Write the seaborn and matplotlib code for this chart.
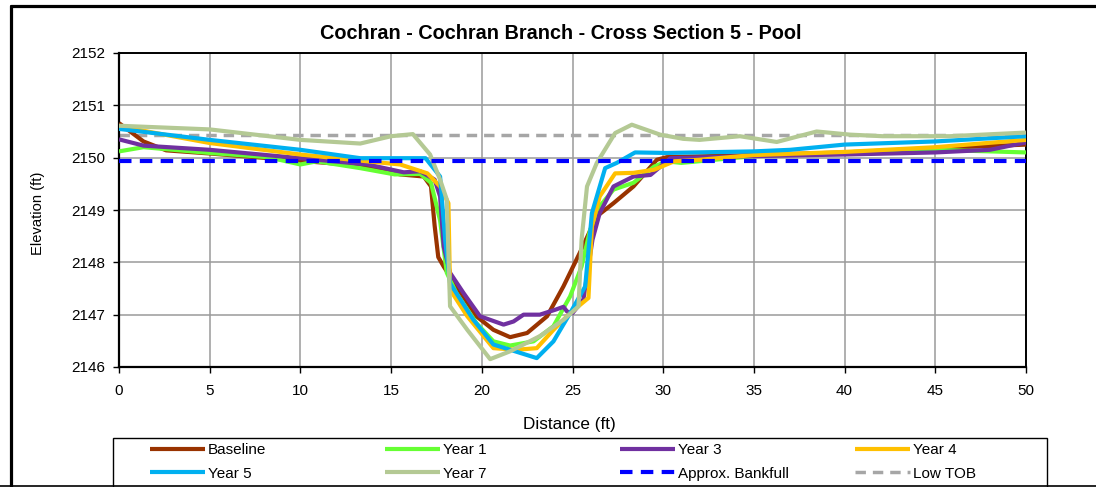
import matplotlib
matplotlib.use("Agg")
import matplotlib.pyplot as plt
from matplotlib.lines import Line2D
from matplotlib.patches import Rectangle
import seaborn as sns
import pandas as pd

# ---------------- data ----------------
baseline_x = [0, 1.35, 2.6, 5, 10, 11.8, 13.7, 15.5, 16.8, 17.2, 17.4, 17.6, 17.9, 18.6, 19.7, 20.64,
              21.56, 22.5, 23.6, 24.5, 25.4, 26.34, 27.26, 28.36, 29.65, 30.2, 35, 40, 45, 50]
baseline_y = [2150.66, 2150.31, 2150.14, 2150.08, 2149.94, 2149.89, 2149.83, 2149.68, 2149.64, 2149.45,
              2148.7, 2148.1, 2147.92, 2147.54, 2146.97, 2146.71, 2146.57, 2146.65, 2146.97, 2147.54,
              2148.18, 2148.88, 2149.13, 2149.45, 2149.96, 2150.01, 2150.05, 2150.1, 2150.18, 2150.25]

year1_x = [0, 1.35, 5, 8.2, 10, 10.9, 13.3, 15.2, 16.6, 17.2, 17.7, 18.07, 18.6, 19.7, 20.64, 21.56,
           22.85, 23.95, 24.87, 25.5, 25.97, 26.5, 27.26, 28.36, 29.5, 30.2, 31, 35, 40, 45, 50]
year1_y = [2150.12, 2150.2, 2150.09, 2150.01, 2149.87, 2149.93, 2149.8, 2149.68, 2149.69, 2149.52,
           2148.8, 2147.8, 2147.41, 2146.84, 2146.49, 2146.41, 2146.49, 2146.78, 2147.35, 2147.92,
           2148.62, 2149.07, 2149.39, 2149.52, 2149.83, 2149.93, 2149.9, 2150.03, 2150.09, 2150.15, 2150.1]

year3_x = [0, 1.35, 5, 10, 13.7, 15.7, 16.6, 17.4, 17.7, 17.9, 18.25, 19.0, 19.9, 21.2, 21.75, 22.3,
           23.2, 24.1, 24.5, 24.7, 25.0, 25.6, 26.1, 26.5, 27.26, 28.36, 29.3, 30.4, 35, 40, 45, 48, 50]
year3_y = [2150.35, 2150.23, 2150.15, 2149.99, 2149.87, 2149.72, 2149.74, 2149.58, 2149.26, 2148.3,
           2147.8, 2147.41, 2146.97, 2146.81, 2146.87, 2147.0, 2147.0, 2147.1, 2147.15, 2147.06,
           2147.03, 2147.29, 2148.43, 2148.94, 2149.45, 2149.64, 2149.67, 2149.99, 2150.03, 2150.06,
           2150.1, 2150.15, 2150.29]

year4_x = [0, 5, 10, 13.7, 15.5, 17.0, 17.7, 18.16, 18.25, 19.2, 20.64, 21.93, 23.03, 23.95, 24.87,
           25.88, 26.07, 26.5, 27.35, 28.36, 29.5, 30.6, 32, 35, 40, 45, 50]
year4_y = [2150.6, 2150.28, 2150.06, 2149.93, 2149.87, 2149.7, 2149.45, 2149.13, 2147.48, 2146.97,
           2146.36, 2146.33, 2146.36, 2146.71, 2147.03, 2147.32, 2148.69, 2149.26, 2149.7, 2149.71,
           2149.77, 2149.93, 2149.96, 2150.05, 2150.11, 2150.2, 2150.34]

year5_x = [0, 5, 10, 13.3, 15.5, 16.9, 17.7, 17.98, 18.25, 19.54, 20.64, 21.56, 23.03, 23.95, 24.87,
           25.7, 26.07, 26.8, 27.44, 28.45, 30.2, 35, 37, 40, 45, 50]
year5_y = [2150.55, 2150.34, 2150.15, 2149.99, 2149.99, 2149.99, 2149.64, 2148.43, 2147.6, 2146.9,
           2146.43, 2146.33, 2146.17, 2146.49, 2147.03, 2147.54, 2148.94, 2149.8, 2149.9, 2150.1,
           2150.09, 2150.12, 2150.15, 2150.25, 2150.31, 2150.41]

year7_x = [0, 5, 10, 13.3, 15, 16.2, 17.15, 17.7, 18.07, 18.25, 19.2, 20.46, 21.56, 23.2, 24.5, 25.33,
           25.5, 25.8, 26.34, 27.35, 28.27, 29.83, 31.1, 32, 34.23, 36.26, 38.46, 40.3, 42.1, 45.8, 50]
year7_y = [2150.61, 2150.54, 2150.34, 2150.27, 2150.41, 2150.45, 2150.06, 2149.58, 2149.2, 2147.16,
           2146.71, 2146.15, 2146.3, 2146.59, 2146.9, 2147.16, 2148.43, 2149.45, 2149.9, 2150.47,
           2150.63, 2150.44, 2150.36, 2150.34, 2150.41, 2150.3, 2150.5, 2150.44, 2150.41, 2150.41, 2150.48]

bankfull_x = [0, 50]
bankfull_y = [2149.93, 2149.93]
lowtob_x = [0, 50]
lowtob_y = [2150.43, 2150.43]

series_names = ["Baseline", "Year 1", "Year 3", "Year 4", "Year 5", "Year 7",
                "Approx. Bankfull", "Low TOB"]
x_ticks = [0, 5, 10, 15, 20, 25, 30, 35, 40, 45, 50]
y_ticks = [2146, 2147, 2148, 2149, 2150, 2151, 2152]

# ---------------- style ----------------
sns.set_style("white")
plt.rcParams['font.family'] = ['Liberation Sans', 'DejaVu Sans']
plt.rcParams['text.color'] = 'black'
plt.rcParams['axes.labelcolor'] = 'black'
plt.rcParams['xtick.color'] = 'black'
plt.rcParams['ytick.color'] = 'black'

fig = plt.figure(figsize=(10.96, 4.87), dpi=100)
W, H = 1096, 487
ax = fig.add_axes([119 / W, 1 - 367 / H, (1026 - 119) / W, (367 - 53) / H])

colors = ["#993300", "#66FF33", "#7030A0", "#FFC000", "#00B0F0", "#B4C994", "#0000FF", "#A6A6A6"]
data = [(baseline_x, baseline_y), (year1_x, year1_y), (year3_x, year3_y), (year4_x, year4_y),
        (year5_x, year5_y), (year7_x, year7_y), (bankfull_x, bankfull_y), (lowtob_x, lowtob_y)]
styles = ["-", "-", "-", "-", "-", "-", (0, (3, 2)), (0, (3, 2))]
widths = [3.0, 3.0, 3.0, 3.0, 3.0, 3.0, 3.0, 2.5]
zorders = [3, 3, 3, 3, 3, 4, 5, 2.5]

for name, (xs, ys), c, ls, lw, z in zip(series_names, data, colors, styles, widths, zorders):
    df = pd.DataFrame({"x": xs, "y": ys})
    sns.lineplot(data=df, x="x", y="y", ax=ax, color=c, linestyle=ls, linewidth=lw,
                 sort=False, estimator=None, label=name, zorder=z,
                 solid_joinstyle="round", solid_capstyle="butt")

ax.set_xlim(0, 50)
ax.set_ylim(2146, 2152)
ax.set_xticks(x_ticks)
ax.set_yticks(y_ticks)
ax.set_xticklabels([str(v) for v in x_ticks])
ax.set_yticklabels([str(v) for v in y_ticks])
ax.grid(True, color="#9A9A9A", linewidth=1.1, zorder=0)
ax.set_axisbelow(True)
for side in ["left", "bottom", "top", "right"]:
    ax.spines[side].set_visible(True)
    ax.spines[side].set_color("black")
ax.spines["left"].set_linewidth(1.6)
ax.spines["bottom"].set_linewidth(1.6)
ax.spines["top"].set_linewidth(1.4)
ax.spines["right"].set_linewidth(1.4)
ax.tick_params(axis="both", direction="out", length=4, width=1, colors="black",
               labelsize=11, left=True, bottom=True)
ax.tick_params(axis="y", pad=6)
ax.tick_params(axis="x", pad=8)

ax.set_xlabel("Distance (ft)", fontsize=12.3)
ax.set_ylabel("Elevation (ft)", fontsize=10.6)
ax.xaxis.set_label_coords((569 - 119) / (1026 - 119), (367 - 424) / (367 - 53))
ax.yaxis.set_label_coords((38 - 119) / (1026 - 119), (367 - 213) / (367 - 53))
ax.xaxis.label.set_va("center")
ax.yaxis.label.set_va("center")

fig.text(561 / W, 1 - 33 / H, "Cochran - Cochran Branch - Cross Section 5 - Pool",
         ha="center", va="center", fontsize=14.3, fontweight="bold")

handles, labels = ax.get_legend_handles_labels()
ax.get_legend().remove()
hmap = dict(zip(labels, handles))

# legend box
fig.add_artist(Rectangle((113 / W, 1 - 492 / H), (1047 - 113) / W, (492 - 438) / H,
                         transform=fig.transFigure, facecolor="white", edgecolor="black",
                         linewidth=1.0, zorder=1))
# legend columns (row-major order as in the reference)
col_x = [150, 385, 620, 855]
for i, xpx in enumerate(col_x):
    names = [series_names[i], series_names[i + 4]]
    fig.legend([hmap[n] for n in names], names, loc="upper left",
               bbox_to_anchor=(xpx / W, 1 - 443.5 / H), frameon=False, fontsize=11,
               handlelength=3.6, handletextpad=0.2, borderpad=0, borderaxespad=0,
               labelspacing=0.6)

# outer chart frame
fig.add_artist(Line2D([11 / W, 11 / W], [0, 1 - 6 / H], transform=fig.transFigure,
                      color="black", linewidth=2.3))
fig.add_artist(Line2D([11 / W, 1.0], [1 - 6 / H, 1 - 6 / H], transform=fig.transFigure,
                      color="black", linewidth=2.3))
fig.add_artist(Line2D([0, 1.0], [1 - 486 / H, 1 - 486 / H], transform=fig.transFigure,
                      color="black", linewidth=1.2))

fig.savefig("out.png", dpi=100)
